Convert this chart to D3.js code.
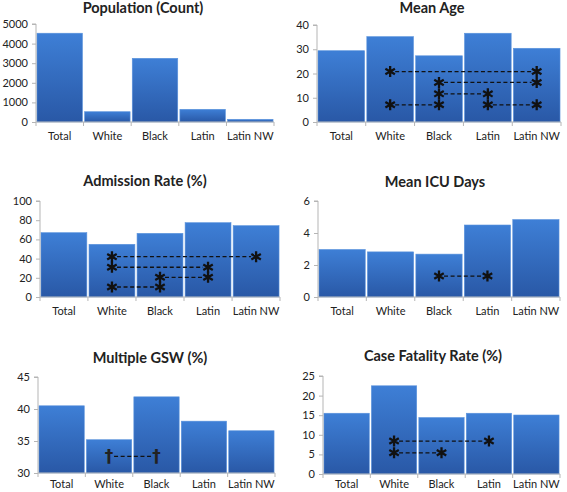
<!DOCTYPE html>
<html>
<head>
<meta charset="utf-8">
<script src="https://cdn.jsdelivr.net/npm/d3@7"></script>
<style>
  html, body { margin: 0; padding: 0; background: #fff; }
  svg { display: block; }
  text { font-family: Lato, "Open Sans", sans-serif; fill: #222; }
</style>
</head>
<body>
<svg id="chart" width="567" height="492"></svg>
<script>
// ---------- data ----------
const categories = ["Total", "White", "Black", "Latin", "Latin NW"];

const population   = [4530, 525, 3250, 648, 138];
const meanAge      = [29.4, 35.2, 27.3, 36.6, 30.4];
const admissionRate = [67.0, 54.9, 66.3, 77.4, 74.3];
const meanIcuDays  = [2.97, 2.82, 2.68, 4.50, 4.84];
const multipleGSW  = [40.5, 35.2, 41.9, 38.1, 36.6];
const caseFatality = [15.5, 22.5, 14.4, 15.5, 15.05];

const populationTicks = [0, 1000, 2000, 3000, 4000, 5000];
const ageTicks        = [0, 10, 20, 30, 40];
const admissionTicks  = [0, 20, 40, 60, 80, 100];
const icuTicks        = [0, 2, 4, 6];
const gswTicks        = [30, 35, 40, 45];
const fatalityTicks   = [0, 5, 10, 15, 20, 25];

// significant comparisons: [from, to, level]
const ageSig = [["White", "Latin NW", 20.8], ["Black", "Latin NW", 16.3], ["Black", "Latin", 11.6], ["White", "Black", 7.1], ["Latin", "Latin NW", 7.1]];
const admissionSig = [["White", "Latin NW", 42], ["White", "Latin", 31], ["Black", "Latin", 20.5], ["White", "Black", 10.4]];
const icuSig = [["Black", "Latin", 1.31]];
const gswSig = [["White", "Black", 32.6]];
const fatalitySig = [["White", "Latin", 8.4], ["White", "Black", 5.4]];

// ---------- panels (layout) ----------
const panels = [
  { title: "Population (Count)", values: population, ticks: populationTicks, domain: [0, 5000], sig: [], mark: "*",
    x0: 36, x1: 274, yTop: 24, yBot: 122, titleX: 143, titleY: 7, pad: 10 },
  { title: "Mean Age", values: meanAge, ticks: ageTicks, domain: [0, 40], sig: ageSig, mark: "*",
    x0: 317, x1: 561, yTop: 25, yBot: 122, titleX: 432, titleY: 7, pad: 10 },
  { title: "Admission Rate (%)", values: admissionRate, ticks: admissionTicks, domain: [0, 100], sig: admissionSig, mark: "*",
    x0: 40, x1: 280, yTop: 201, yBot: 297, titleX: 145, titleY: 180, pad: 10 },
  { title: "Mean ICU Days", values: meanIcuDays, ticks: icuTicks, domain: [0, 6], sig: icuSig, mark: "*",
    x0: 318, x1: 560, yTop: 201, yBot: 297, titleX: 435, titleY: 181, pad: 10 },
  { title: "Multiple GSW (%)", values: multipleGSW, ticks: gswTicks, domain: [30, 45], sig: gswSig, mark: "†",
    x0: 38, x1: 275, yTop: 377, yBot: 473, titleX: 150, titleY: 357, pad: 7 },
  { title: "Case Fatality Rate (%)", values: caseFatality, ticks: fatalityTicks, domain: [0, 25], sig: fatalitySig, mark: "*",
    x0: 323, x1: 560, yTop: 376, yBot: 474, titleX: 433, titleY: 355, pad: 6 }
];

const svg = d3.select("#chart");

const defs = svg.append("defs");
const grad = defs.append("linearGradient")
  .attr("id", "barGrad").attr("x1", 0).attr("y1", 0).attr("x2", 0).attr("y2", 1);
grad.append("stop").attr("offset", "0%").attr("stop-color", "#3e7fd6");
grad.append("stop").attr("offset", "100%").attr("stop-color", "#2958a6");

panels.forEach(p => {
  const g = svg.append("g");
  const x = d3.scaleBand().domain(categories).range([p.x0, p.x1])
    .paddingInner(0.045).paddingOuter(0.02);
  const y = d3.scaleLinear().domain(p.domain).range([p.yBot, p.yTop]);

  // title
  g.append("text")
    .attr("x", p.titleX).attr("y", p.titleY)
    .attr("text-anchor", "middle").attr("dominant-baseline", "central")
    .style("font-weight", "bold").style("font-size", "14.5px")
    .text(p.title);

  // bars
  g.selectAll("rect.bar").data(p.values).enter().append("rect")
    .attr("class", "bar")
    .attr("x", (d, i) => x(categories[i]))
    .attr("width", x.bandwidth())
    .attr("y", d => y(d))
    .attr("height", d => y(p.domain[0]) - y(d))
    .attr("fill", "url(#barGrad)")
    .attr("stroke", "#5b93dc").attr("stroke-width", 0.6);

  // y axis
  const yAxis = d3.axisLeft(y).tickValues(p.ticks).tickSize(4).tickPadding(4).tickFormat(d3.format("d"));
  const ya = g.append("g").attr("transform", `translate(${p.x0},0)`).call(yAxis);
  ya.select(".domain").attr("stroke", "#b5b5b5").attr("d", `M-4,${p.yTop}H0V${p.yBot}`);
  ya.selectAll(".tick line").attr("stroke", "#b5b5b5");
  ya.selectAll(".tick text").style("font-size", "11px").style("font-family", "Lato, sans-serif").attr("fill", "#222");

  // x axis
  const xAxis = d3.axisBottom(x).tickSize(0).tickPadding(p.pad);
  const xa = g.append("g").attr("transform", `translate(0,${p.yBot})`).call(xAxis);
  xa.select(".domain").attr("stroke", "#b5b5b5").attr("d", `M${p.x0},0H${p.x1}`);
  xa.selectAll(".tick text").style("font-size", "11px").style("font-family", "Lato, sans-serif").attr("fill", "#222");
  // category separator ticks
  const step = x.step();
  const bounds = d3.range(categories.length + 1).map(i => i === 0 ? p.x0 : (i === categories.length ? p.x1 : x(categories[i]) - (step - x.bandwidth()) / 2));
  xa.selectAll("line.sep").data(bounds).enter().append("line")
    .attr("class", "sep")
    .attr("x1", d => d).attr("x2", d => d).attr("y1", 0).attr("y2", 4)
    .attr("stroke", "#b5b5b5");

  // significance markers
  const cx = c => x(c) + x.bandwidth() / 2;
  const sg = g.append("g");
  p.sig.forEach(s => {
    const xa0 = cx(s[0]), xb = cx(s[1]), yy = y(s[2]);
    sg.append("line")
      .attr("x1", xa0 + 5).attr("x2", xb - 5).attr("y1", yy).attr("y2", yy)
      .attr("stroke", "#111").attr("stroke-width", 1.3).attr("stroke-dasharray", "4,2.6");
    [xa0, xb].forEach(xx => {
      if (p.mark === "*") {
        sg.append("path")
          .attr("d", d3.symbol(d3.symbolAsterisk, 85)())
          .attr("transform", `translate(${xx},${yy})`)
          .attr("stroke", "#111").attr("stroke-width", 2.3).attr("fill", "none");
      } else {
        sg.append("text")
          .attr("x", xx).attr("y", yy + 6)
          .attr("text-anchor", "middle")
          .style("font-size", "17px").style("font-weight", "bold")
          .style("font-family", "DejaVu Sans, sans-serif")
          .attr("fill", "#111")
          .text(p.mark);
      }
    });
  });
});
</script>
</body>
</html>
